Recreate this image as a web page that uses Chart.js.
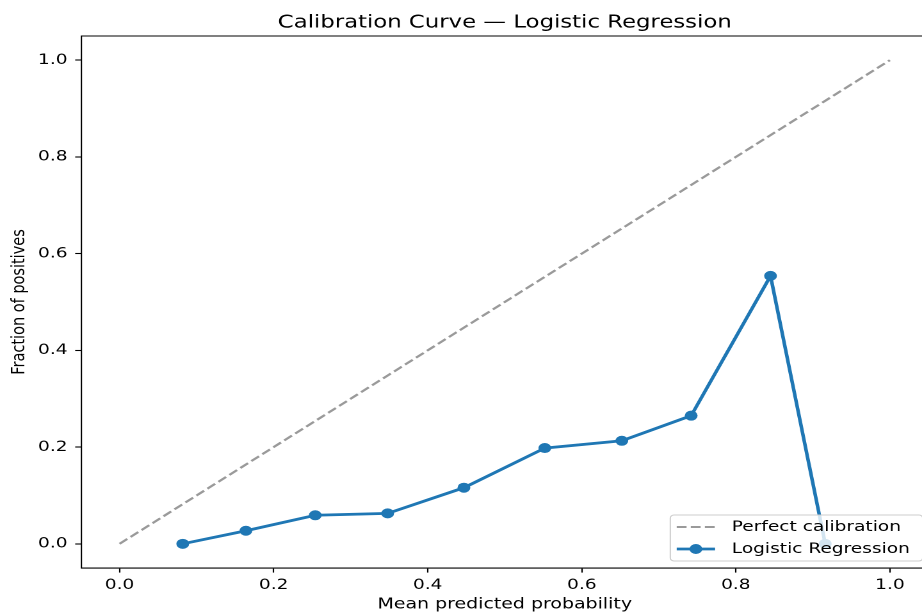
<!DOCTYPE html>
<html>
<head>
<meta charset="utf-8">
<title>Calibration Curve</title>
<script src="https://cdn.jsdelivr.net/npm/chart.js@4.4.1/dist/chart.umd.min.js"></script>
<style>
    html, body { margin: 0; padding: 0; background: #fff; overflow: hidden; width: 922px; height: 615px; }
    /* the reference picture is stretched sideways and cut at the right, so the chart is too */
    #wrap { width: 740px; height: 615px; transform: scaleX(1.2806); transform-origin: 0 0; }
</style>
</head>
<body>
<div id="wrap"><canvas id="calibChart" width="740" height="615"></canvas></div>
<script>
// Data
const meanPredicted = [0.082, 0.164, 0.254, 0.348, 0.447, 0.552, 0.652, 0.742, 0.845, 0.916];
const fractionPositives = [0.0, 0.027, 0.059, 0.063, 0.116, 0.198, 0.213, 0.265, 0.554, 0.0];
const diagonalX = [0, 1];
const diagonalY = [0, 1];
const xTicks = [0.0, 0.2, 0.4, 0.6, 0.8, 1.0];
const yTicks = [0.0, 0.2, 0.4, 0.6, 0.8, 1.0];

const chartTitle = 'Calibration Curve \u2014 Logistic Regression';
const xLabel = 'Mean predicted probability';
const yLabel = 'Fraction of positives';

Chart.defaults.font.family = "'DejaVu Sans', sans-serif";
Chart.defaults.color = '#000';

function toPoints(xs, ys) {
    return xs.map((x, i) => ({ x: x, y: ys[i] }));
}

// title centred over the axes, the way matplotlib does it
const axesTitle = {
    id: 'axesTitle',
    afterDraw(chart) {
        const { ctx, chartArea } = chart;
        ctx.save();
        ctx.font = '17.8px "DejaVu Sans"';
        ctx.fillStyle = '#000';
        ctx.textAlign = 'center';
        ctx.textBaseline = 'alphabetic';
        ctx.fillText(chartTitle, (chartArea.left + chartArea.right) / 2, chartArea.top - 8.3);
        ctx.restore();
    }
};

// top and right spines
const frameSpines = {
    id: 'frameSpines',
    afterDraw(chart) {
        const { ctx, chartArea } = chart;
        ctx.save();
        ctx.strokeStyle = '#000';
        ctx.lineWidth = 1.1;
        ctx.beginPath();
        ctx.moveTo(chartArea.left, chartArea.top);
        ctx.lineTo(chartArea.right, chartArea.top);
        ctx.lineTo(chartArea.right, chartArea.bottom);
        ctx.stroke();
        ctx.restore();
    }
};

// legend box in the lower right corner, drawn over the lines
const cornerLegend = {
    id: 'cornerLegend',
    afterDatasetsDraw(chart) {
        const { ctx, chartArea } = chart;
        const sets = chart.data.datasets;
        ctx.save();
        ctx.font = '14.5px "DejaVu Sans"';
        const textW = Math.max(...sets.map(d => ctx.measureText(d.label).width));
        const padL = 5, handleW = 30, gap = 13, padR = 10, rowH = 22;
        const w = padL + handleW + gap + textW + padR;
        const h = 46;
        const right = chartArea.right - 4.5;
        const bottom = chartArea.bottom - 7;
        const left = right - w, top = bottom - h;

        ctx.beginPath();
        ctx.roundRect(left, top, w, h, 3);
        ctx.fillStyle = 'rgba(255,255,255,0.8)';
        ctx.fill();
        ctx.strokeStyle = '#cccccc';
        ctx.lineWidth = 1;
        ctx.stroke();

        sets.forEach((ds, i) => {
            const y = top + 12 + i * rowH;
            const x0 = left + padL, x1 = x0 + handleW;
            ctx.strokeStyle = ds.borderColor;
            ctx.lineWidth = ds.borderWidth;
            ctx.setLineDash(ds.borderDash || []);
            ctx.beginPath();
            ctx.moveTo(x0, y);
            ctx.lineTo(x1, y);
            ctx.stroke();
            ctx.setLineDash([]);
            if (ds.pointRadius > 0) {
                ctx.fillStyle = ds.pointBackgroundColor;
                ctx.beginPath();
                ctx.arc((x0 + x1) / 2, y, ds.pointRadius, 0, Math.PI * 2);
                ctx.fill();
            }
            ctx.fillStyle = '#000';
            ctx.textAlign = 'left';
            ctx.textBaseline = 'middle';
            ctx.fillText(ds.label, x1 + gap, y);
        });
        ctx.restore();
    }
};

const tickFont = { size: 14.5 };
const axisGrid = {
    drawOnChartArea: false,
    drawTicks: true,
    tickLength: 4.6,
    tickColor: '#000',
    tickWidth: 1.1
};
const axisBorder = { color: '#000', width: 1.1 };

const ctx = document.getElementById('calibChart').getContext('2d');
const calibChart = new Chart(ctx, {
    type: 'scatter',
    data: {
        datasets: [
            {
                label: 'Perfect calibration',
                data: toPoints(diagonalX, diagonalY),
                showLine: true,
                borderColor: '#9a9a9a',
                borderWidth: 2.1,
                borderDash: [7.7, 3.3],
                pointRadius: 0,
                order: 1
            },
            {
                label: 'Logistic Regression',
                data: toPoints(meanPredicted, fractionPositives),
                showLine: true,
                borderColor: '#1f77b4',
                backgroundColor: '#1f77b4',
                pointBackgroundColor: '#1f77b4',
                borderWidth: 2.8,
                pointRadius: 5,
                pointBorderWidth: 0,
                order: 0
            }
        ]
    },
    options: {
        responsive: false,
        animation: false,
        devicePixelRatio: 2,
        layout: { padding: { top: 36, right: 15, bottom: 0, left: 0 } },
        plugins: {
            legend: { display: false },
            title: { display: false },
            tooltip: { enabled: false }
        },
        scales: {
            x: {
                type: 'linear',
                min: -0.05,
                max: 1.05,
                afterBuildTicks: scale => { scale.ticks = xTicks.map(v => ({ value: v })); },
                afterFit: scale => { scale.height = 47; },
                ticks: {
                    font: tickFont,
                    color: '#000',
                    padding: 4,
                    maxRotation: 0,
                    callback: v => Number(v).toFixed(1)
                },
                grid: axisGrid,
                border: axisBorder,
                title: {
                    display: true,
                    text: xLabel,
                    font: { size: 14.8 },
                    color: '#000',
                    padding: { top: 0, bottom: 1.4 }
                }
            },
            y: {
                type: 'linear',
                min: -0.05,
                max: 1.05,
                afterBuildTicks: scale => { scale.ticks = yTicks.map(v => ({ value: v })); },
                afterFit: scale => { scale.width = 63.3; },
                ticks: {
                    font: tickFont,
                    color: '#000',
                    padding: 6,
                    callback: v => Number(v).toFixed(1)
                },
                grid: axisGrid,
                border: axisBorder,
                title: {
                    display: true,
                    text: yLabel,
                    font: { size: 14.5 },
                    color: '#000',
                    padding: { top: 6.4, bottom: 0 }
                }
            }
        }
    },
    plugins: [frameSpines, cornerLegend, axesTitle]
});
</script>
</body>
</html>
